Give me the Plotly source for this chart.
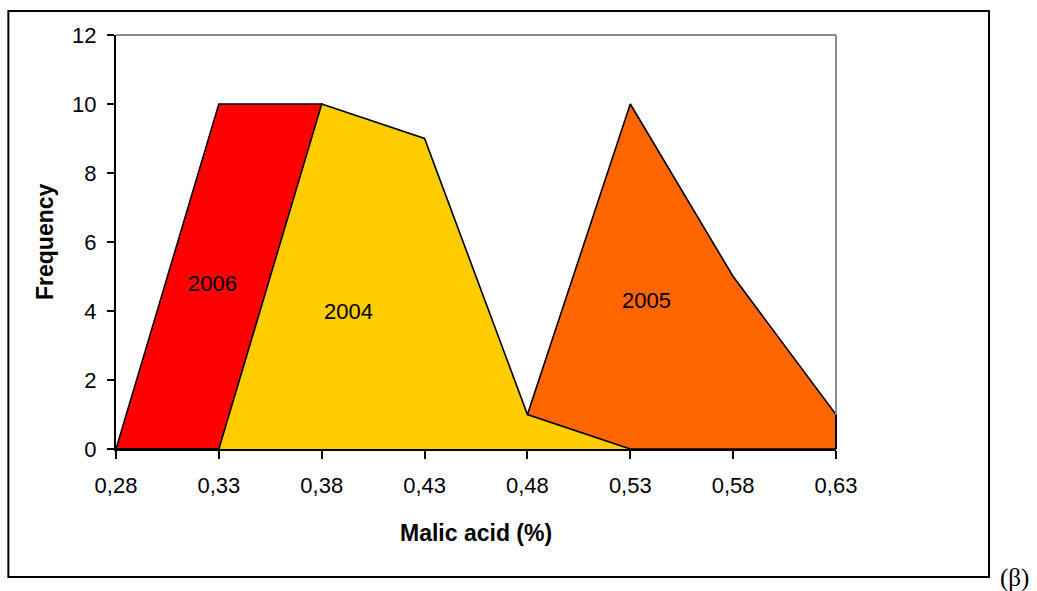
import plotly.graph_objects as go

# Malic acid class midpoints (%) and frequency per harvest year
malic_acid = [0.28, 0.33, 0.38, 0.43, 0.48, 0.53, 0.58, 0.63]
tick_text = ["0,28", "0,33", "0,38", "0,43", "0,48", "0,53", "0,58", "0,63"]
freq_2006 = [0, 10, 10, 0, 0, 0, 0, 0]
freq_2004 = [0, 0, 10, 9, 1, 0, 0, 0]
freq_2005 = [0, 0, 0, 0, 1, 10, 5, 1]

# Series label positions (x, y) in data units
label_2006 = (0.3267, 4.8)
label_2004 = (0.3928, 4.0)
label_2005 = (0.5381, 4.3)

FONT = "Liberation Sans, Arial, sans-serif"
Y_MAX = 12
X_MIN, X_MAX = malic_acid[0], malic_acid[-1]

fig = go.Figure()


def area(y, color, name):
    fig.add_trace(go.Scatter(
        x=malic_acid, y=y, mode="lines", name=name,
        line=dict(color="black", width=1.6),
        fill="tozeroy", fillcolor=color,
        hoverinfo="x+y+name",
    ))


# drawing order: 2006 and 2005 behind, 2004 on top
area(freq_2006, "#FF0000", "2006")
area(freq_2005, "#FF6600", "2005")
area(freq_2004, "#FFCC00", "2004")

annotations = []
for (lx, ly), txt in [(label_2006, "2006"), (label_2004, "2004"), (label_2005, "2005")]:
    annotations.append(dict(x=lx, y=ly, xref="x", yref="y", text=txt, showarrow=False,
                            font=dict(family=FONT, size=22, color="black")))

# axis titles
annotations.append(dict(x=0.5, y=0, xref="paper", yref="paper", yshift=-84,
                        xanchor="center", yanchor="middle",
                        text="<b>Malic acid (%)</b>", showarrow=False,
                        font=dict(family=FONT, size=23, color="black")))
annotations.append(dict(x=0, y=0.5, xref="paper", yref="paper", xshift=-71,
                        xanchor="center", yanchor="middle",
                        text="<b>Frequency</b>", showarrow=False, textangle=-90,
                        font=dict(family=FONT, size=23, color="black")))
# panel marker
annotations.append(dict(x=1.2250, y=-0.312, xref="paper", yref="paper",
                        text="(β)", showarrow=False, xanchor="left", yanchor="middle",
                        font=dict(family="Liberation Serif, Times New Roman, serif", size=25, color="black")))

shapes = [
    # plot-area frame (top and right)
    dict(type="line", xref="paper", yref="paper", x0=0, x1=1, y0=1, y1=1,
         line=dict(color="#8c8c8c", width=2)),
    dict(type="line", xref="paper", yref="paper", x0=1, x1=1, y0=0, y1=1,
         line=dict(color="#8c8c8c", width=2)),
    # closing edge of the 2005 area at the last class
    dict(type="line", xref="paper", yref="paper", x0=1, x1=1, y0=0, y1=freq_2005[-1] / Y_MAX,
         line=dict(color="black", width=2)),
    # outer chart border
    dict(type="rect", xref="paper", yref="paper", x0=-0.1495, x1=1.2125, y0=-0.309, y1=1.058,
         line=dict(color="black", width=2), fillcolor="rgba(0,0,0,0)"),
]

fig.update_layout(
    width=1037, height=591,
    margin=dict(l=116, r=201, t=35, b=142, pad=0),
    paper_bgcolor="white", plot_bgcolor="white",
    showlegend=False,
    annotations=annotations,
    shapes=shapes,
    font=dict(family=FONT, size=22, color="black"),
)

fig.update_xaxes(
    range=[X_MIN, X_MAX], tickvals=malic_acid, ticktext=tick_text,
    showgrid=False, zeroline=False,
    showline=True, linecolor="black", linewidth=2,
    ticks="outside", ticklen=8, tickwidth=1.5, tickcolor="black",
    tickfont=dict(family=FONT, size=22, color="black"),
    ticklabelstandoff=8,
)
fig.update_yaxes(
    range=[0, Y_MAX], tickvals=list(range(0, Y_MAX + 1, 2)),
    showgrid=False, zeroline=False,
    showline=True, linecolor="black", linewidth=2,
    ticks="outside", ticklen=7, tickwidth=1.5, tickcolor="black",
    tickfont=dict(family=FONT, size=22, color="black"),
    ticklabelstandoff=6,
)

fig.write_html("out.html")
